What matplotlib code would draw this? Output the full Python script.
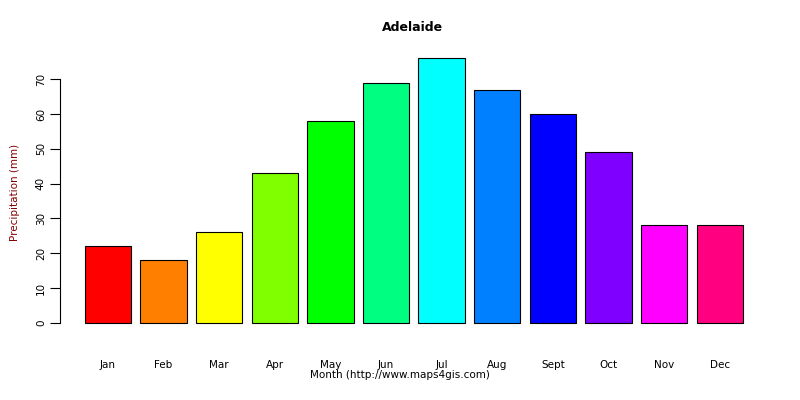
import matplotlib
matplotlib.use("Agg")
import matplotlib.pyplot as plt

months = ["Jan", "Feb", "Mar", "Apr", "May", "Jun", "Jul", "Aug", "Sept", "Oct", "Nov", "Dec"]
precip = [22, 18, 26, 43, 58, 69, 76, 67, 60, 49, 28, 28]
colors = ["#FF0000", "#FF8000", "#FFFF00", "#80FF00", "#00FF00", "#00FF80",
          "#00FFFF", "#0080FF", "#0000FF", "#8000FF", "#FF00FF", "#FF0080"]
yticks = [0, 10, 20, 30, 40, 50, 60, 70]

fig = plt.figure(figsize=(8, 4), dpi=100)
ax = fig.add_axes([0.061, 0.166, 0.901, 0.715])

# R barplot geometry: width 1, space 0.2
lefts = [0.2 + 1.2 * i for i in range(len(precip))]
centers = [l + 0.5 for l in lefts]
ax.bar(centers, precip, width=1.0, color=colors, edgecolor="black", linewidth=0.8)

ax.set_xlim(-0.576, 14.976)
ax.set_ylim(-3.04, 79.04)
for s in ("top", "right", "bottom"):
    ax.spines[s].set_visible(False)
ax.spines["left"].set_position(("data", -0.339))
ax.spines["left"].set_bounds(0, 70)
ax.set_yticks(yticks)
ax.set_yticklabels([str(v) for v in yticks], rotation=90, va="center", fontsize=7.5)
ax.tick_params(axis="y", length=7, pad=3)
ax.set_xticks(centers)
ax.set_xticklabels(months, fontsize=7.5)
ax.tick_params(axis="x", length=0, pad=19)

fig.text(0.5, 0.055, "Month (http://www.maps4gis.com)", ha="center", fontsize=7.5)
fig.text(0.013, 0.52, "Precipitation (mm)", rotation=90, va="center", ha="left",
         fontsize=7.5, color="#800000")
fig.text(0.515, 0.922, "Adelaide", ha="center", fontsize=9, fontweight="bold")

fig.savefig("out.png", dpi=100)
